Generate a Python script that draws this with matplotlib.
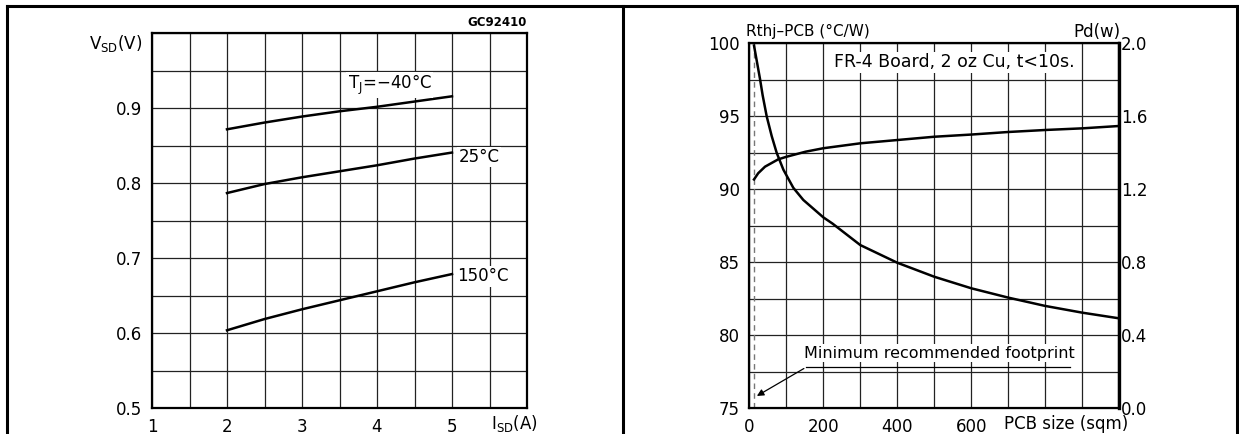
import numpy as np
import matplotlib.pyplot as plt
from matplotlib.lines import Line2D

# left chart: source-drain diode forward voltage vs current
isd = [2, 2.5, 3, 3.5, 4, 4.5, 5]
v_m40 = [0.872, 0.881, 0.889, 0.896, 0.902, 0.909, 0.916]
v_25 = [0.787, 0.799, 0.808, 0.816, 0.824, 0.833, 0.841]
v_150 = [0.604, 0.619, 0.632, 0.644, 0.656, 0.668, 0.679]

# right chart: thermal resistance and power dissipation vs PCB size
pcb_rth = [12.7, 29, 36, 47, 60.5, 74, 92, 119, 146, 200, 225, 300, 400, 500, 600,
           700, 800, 900, 1000]
rth = [99.85, 97.55, 96.45, 95.0, 93.65, 92.5, 91.35, 90.1, 89.27, 88.08, 87.65, 86.18,
       84.97, 84.01, 83.22, 82.58, 82.01, 81.55, 81.16]
pcb_pd = [12.7, 24, 42.5, 78, 100, 152, 200, 300, 400, 500, 600, 700, 800, 900, 1000]
pd_w = [1.254, 1.288, 1.324, 1.364, 1.378, 1.406, 1.425, 1.452, 1.470, 1.488, 1.500,
        1.514, 1.525, 1.534, 1.547]
min_footprint = 12.7

plt.rcParams['font.family'] = ['DejaVu Sans']
fs = 12
grid_kw = dict(color='#222222', lw=0.9)
box = dict(facecolor='white', edgecolor='none', pad=1)

fig = plt.figure(figsize=(12.39, 4.34), dpi=100)

# ---- left panel
ax1 = fig.add_axes([152 / 1239, 25.7 / 434, 375 / 1239, 375 / 434])
ax1.plot(isd, v_m40, color='black', lw=1.8)
ax1.plot(isd, v_25, color='black', lw=1.8)
ax1.plot(isd, v_150, color='black', lw=1.8)
ax1.set_xlim(1, 6)
ax1.set_ylim(0.5, 1.0)
xt = np.arange(1, 6.01, 0.5)
ax1.set_xticks(xt)
ax1.set_xticklabels([f'{v:g}' if v == int(v) and v < 6 else '' for v in xt], fontsize=fs)
yt = np.arange(0.5, 1.001, 0.05)
ax1.set_yticks(yt)
ax1.set_yticklabels([f'{v:.1f}' if round(v * 100) % 10 == 0 and v < 0.99 else '' for v in yt],
                    fontsize=fs)
ax1.tick_params(length=0, pad=7)
ax1.grid(True, **grid_kw)
for s in ax1.spines.values():
    s.set_linewidth(1.6)

ax1.text(3.61, 0.931, 'T$_{\\mathregular{J}}$=\u221240°C', fontsize=fs, va='center', ha='left', bbox=box)
ax1.text(5.09, 0.835, '25°C', fontsize=fs, va='center', ha='left', bbox=box)
ax1.text(5.07, 0.676, '150°C', fontsize=fs, va='center', ha='left', bbox=box)
ax1.text(1.0, 1.012, 'GC92410', transform=ax1.transAxes, fontsize=8.5, ha='right',
         va='bottom', fontweight='bold')
ax1.text(-0.027, 0.987, 'V$_{\\mathregular{SD}}$(V)', transform=ax1.get_yaxis_transform(),
         fontsize=fs, ha='right', va='center')
ax1.text(5.83, -0.04, 'I$_{\\mathregular{SD}}$(A)', transform=ax1.get_xaxis_transform(),
         fontsize=fs, ha='center', va='center')

# ---- right panel
ax2 = fig.add_axes([749.3 / 1239, 25.7 / 434, 370 / 1239, 365 / 434])
ax2.plot(pcb_rth, rth, color='black', lw=1.8, zorder=3)
ax2.axvline(min_footprint, color='#777777', lw=1, ls=(0, (4, 3)))
ax2.set_xlim(0, 1000)
ax2.set_ylim(75, 100)
xt2 = np.arange(0, 1001, 100)
ax2.set_xticks(xt2)
ax2.set_xticklabels([str(v) if v in (0, 200, 400, 600) else '' for v in xt2], fontsize=fs)
yt2 = np.arange(75, 100.01, 2.5)
ax2.set_yticks(yt2)
ax2.set_yticklabels([f'{v:g}' if v % 5 == 0 else '' for v in yt2], fontsize=fs)
ax2.tick_params(length=0, pad=7)
ax2.grid(True, **grid_kw)
for s in ax2.spines.values():
    s.set_linewidth(1.6)

ax3 = ax2.twinx()
ax3.plot(pcb_pd, pd_w, color='black', lw=1.8)
ax3.set_ylim(0, 2.0)
ax3.set_yticks(np.arange(0, 2.01, 0.4))
ax3.set_yticklabels([f'{v:.1f}' for v in np.arange(0, 2.01, 0.4)], fontsize=fs)
ax3.tick_params(length=0, pad=1)
ax3.spines['right'].set_linewidth(2.4)

ax2.text(554, 98.7, 'FR-4 Board, 2 oz Cu, t<10s.', fontsize=12.5, ha='center', va='center',
         bbox=box, zorder=4)
ax2.text(514, 78.77, 'Minimum recommended footprint', fontsize=11.5, ha='center', va='center',
         bbox=box, zorder=4)
ax2.plot([154, 868], [77.82, 77.82], color='black', lw=0.9, zorder=4)
ax2.annotate('', xy=(14, 75.75), xytext=(154, 77.82),
             arrowprops=dict(arrowstyle='-|>', color='black', lw=0.9, mutation_scale=10))
ax2.text(-0.009, 1.031, 'Rthj\u2013PCB (°C/W)', transform=ax2.transAxes, fontsize=11,
         ha='left', va='center')
ax2.text(1.002, 1.031, 'Pd(w)', transform=ax2.transAxes, fontsize=fs, ha='right', va='center')
ax2.text(855, -0.042, 'PCB size (sqm)', transform=ax2.get_xaxis_transform(), fontsize=fs,
         ha='center', va='center')

# outer frame and divider
lw_frame = 2.2
fig.add_artist(Line2D([7 / 1239, 1236.7 / 1239], [1 - 6 / 434, 1 - 6 / 434], color='black', lw=lw_frame))
for xpx in (7, 622.7, 1236.7):
    fig.add_artist(Line2D([xpx / 1239, xpx / 1239], [0, 1 - 6 / 434], color='black', lw=lw_frame))

fig.savefig('out.png', dpi=100)
